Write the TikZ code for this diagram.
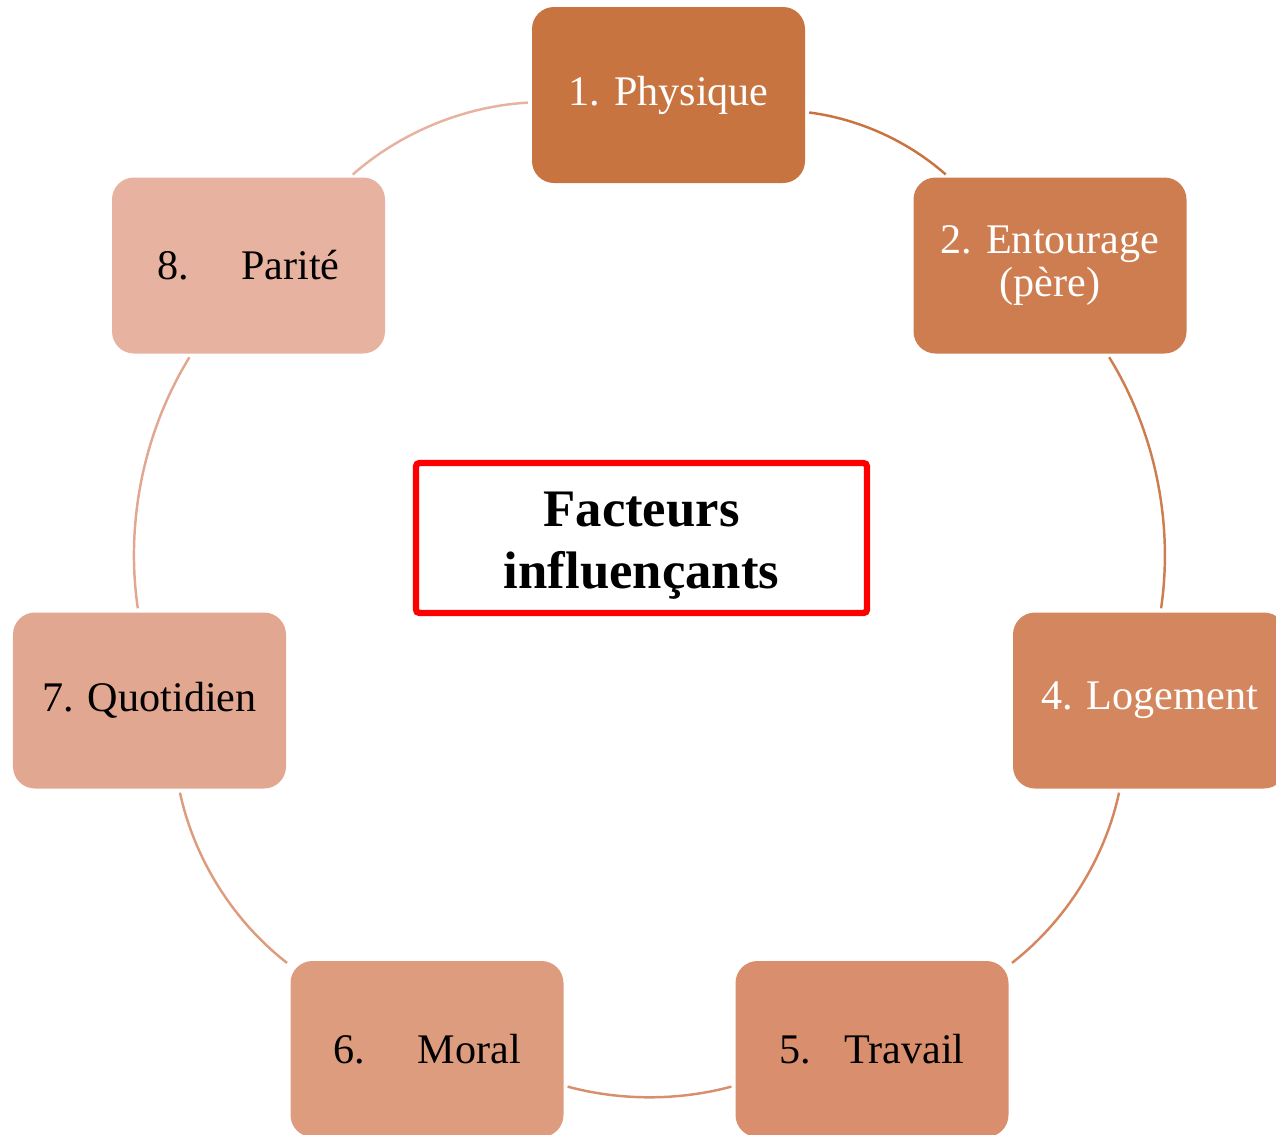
\documentclass[tikz,border=0pt]{standalone}
\usepackage{fontspec}
\setmainfont{Liberation Serif}
\usetikzlibrary{
    positioning,
    calc
}

\definecolor{physC}{HTML}{C87441}
\definecolor{entourC}{HTML}{CD7D4F}
\definecolor{logeC}{HTML}{D4875F}
\definecolor{travC}{HTML}{D98F6D}
\definecolor{moralC}{HTML}{DE9C7E}
\definecolor{quotC}{HTML}{E2A790}
\definecolor{pariteC}{HTML}{E7B29F}

\tikzset{
    % --- Factor box (rounded, filled) ---
    factor/.style = {
        rectangle, rounded corners=0.22cm, draw=none,
        minimum width=2.73cm, minimum height=1.76cm,
        font=\fontsize{12}{12}\selectfont, align=center,
        inner sep=2pt
    },
    % --- Dark factor, white text ---
    dark factor/.style = {
        factor, text=white
    },
    % --- Light factor, black text ---
    light factor/.style = {
        factor, text=black
    },
    % --- Central title box ---
    title box/.style = {
        rectangle, draw=red, line width=1.8pt, rounded corners=1pt,
        minimum width=4.51cm, minimum height=1.5cm,
        font=\fontsize{15}{17.6}\selectfont\bfseries, align=center
    },
    % --- Arc of the cycle ---
    cycle link/.style = {
        line width=0.7pt, shorten <=1pt, shorten >=1pt
    }
}

\begin{document}
\begin{tikzpicture}

\useasboundingbox (0,0) rectangle (12.76,-11.34);
\clip (0,0) rectangle (12.76,-11.34);

% ---------------------------------------------------------
% Factors around the cycle
% ---------------------------------------------------------
\node[dark factor, fill=physC] (Phys) at (6.685, -0.95) {1. Physique};
\node[dark factor, fill=entourC] (Entour) at (10.50, -2.655) {2. Entourage\\(père)};
\node[dark factor, fill=logeC] (Loge) at (11.495, -7.005) {4. Logement};
\node[light factor, fill=travC] (Trav) at (8.72, -10.49) {5.\hspace{0.33cm}Travail};
\node[light factor, fill=moralC] (Moral) at (4.27, -10.49) {6.\hspace{0.53cm}Moral};
\node[light factor, fill=quotC] (Quotid) at (1.495, -7.005) {7. Quotidien};
\node[light factor, fill=pariteC] (Parite) at (2.485, -2.655) {8.\hspace{0.52cm}Parité};

% ---------------------------------------------------------
% Centre title
% ---------------------------------------------------------
\node[title box] (Centre) at (6.415, -5.38) {\rule{0pt}{0.5cm}Facteurs\\influençants};

% ---------------------------------------------------------
% Cycle arcs (colour of the box they leave)
% ---------------------------------------------------------
\foreach \from/\to/\col/\bend in {Phys/Entour/physC/17, Entour/Loge/entourC/20,
        Loge/Trav/logeC/20, Trav/Moral/travC/15, Moral/Quotid/moralC/20,
        Quotid/Parite/quotC/20, Parite/Phys/pariteC/19} {
    \draw[cycle link, draw=\col] (\from) to[bend left=\bend, looseness=0.88] (\to);
}

\end{tikzpicture}
\end{document}
